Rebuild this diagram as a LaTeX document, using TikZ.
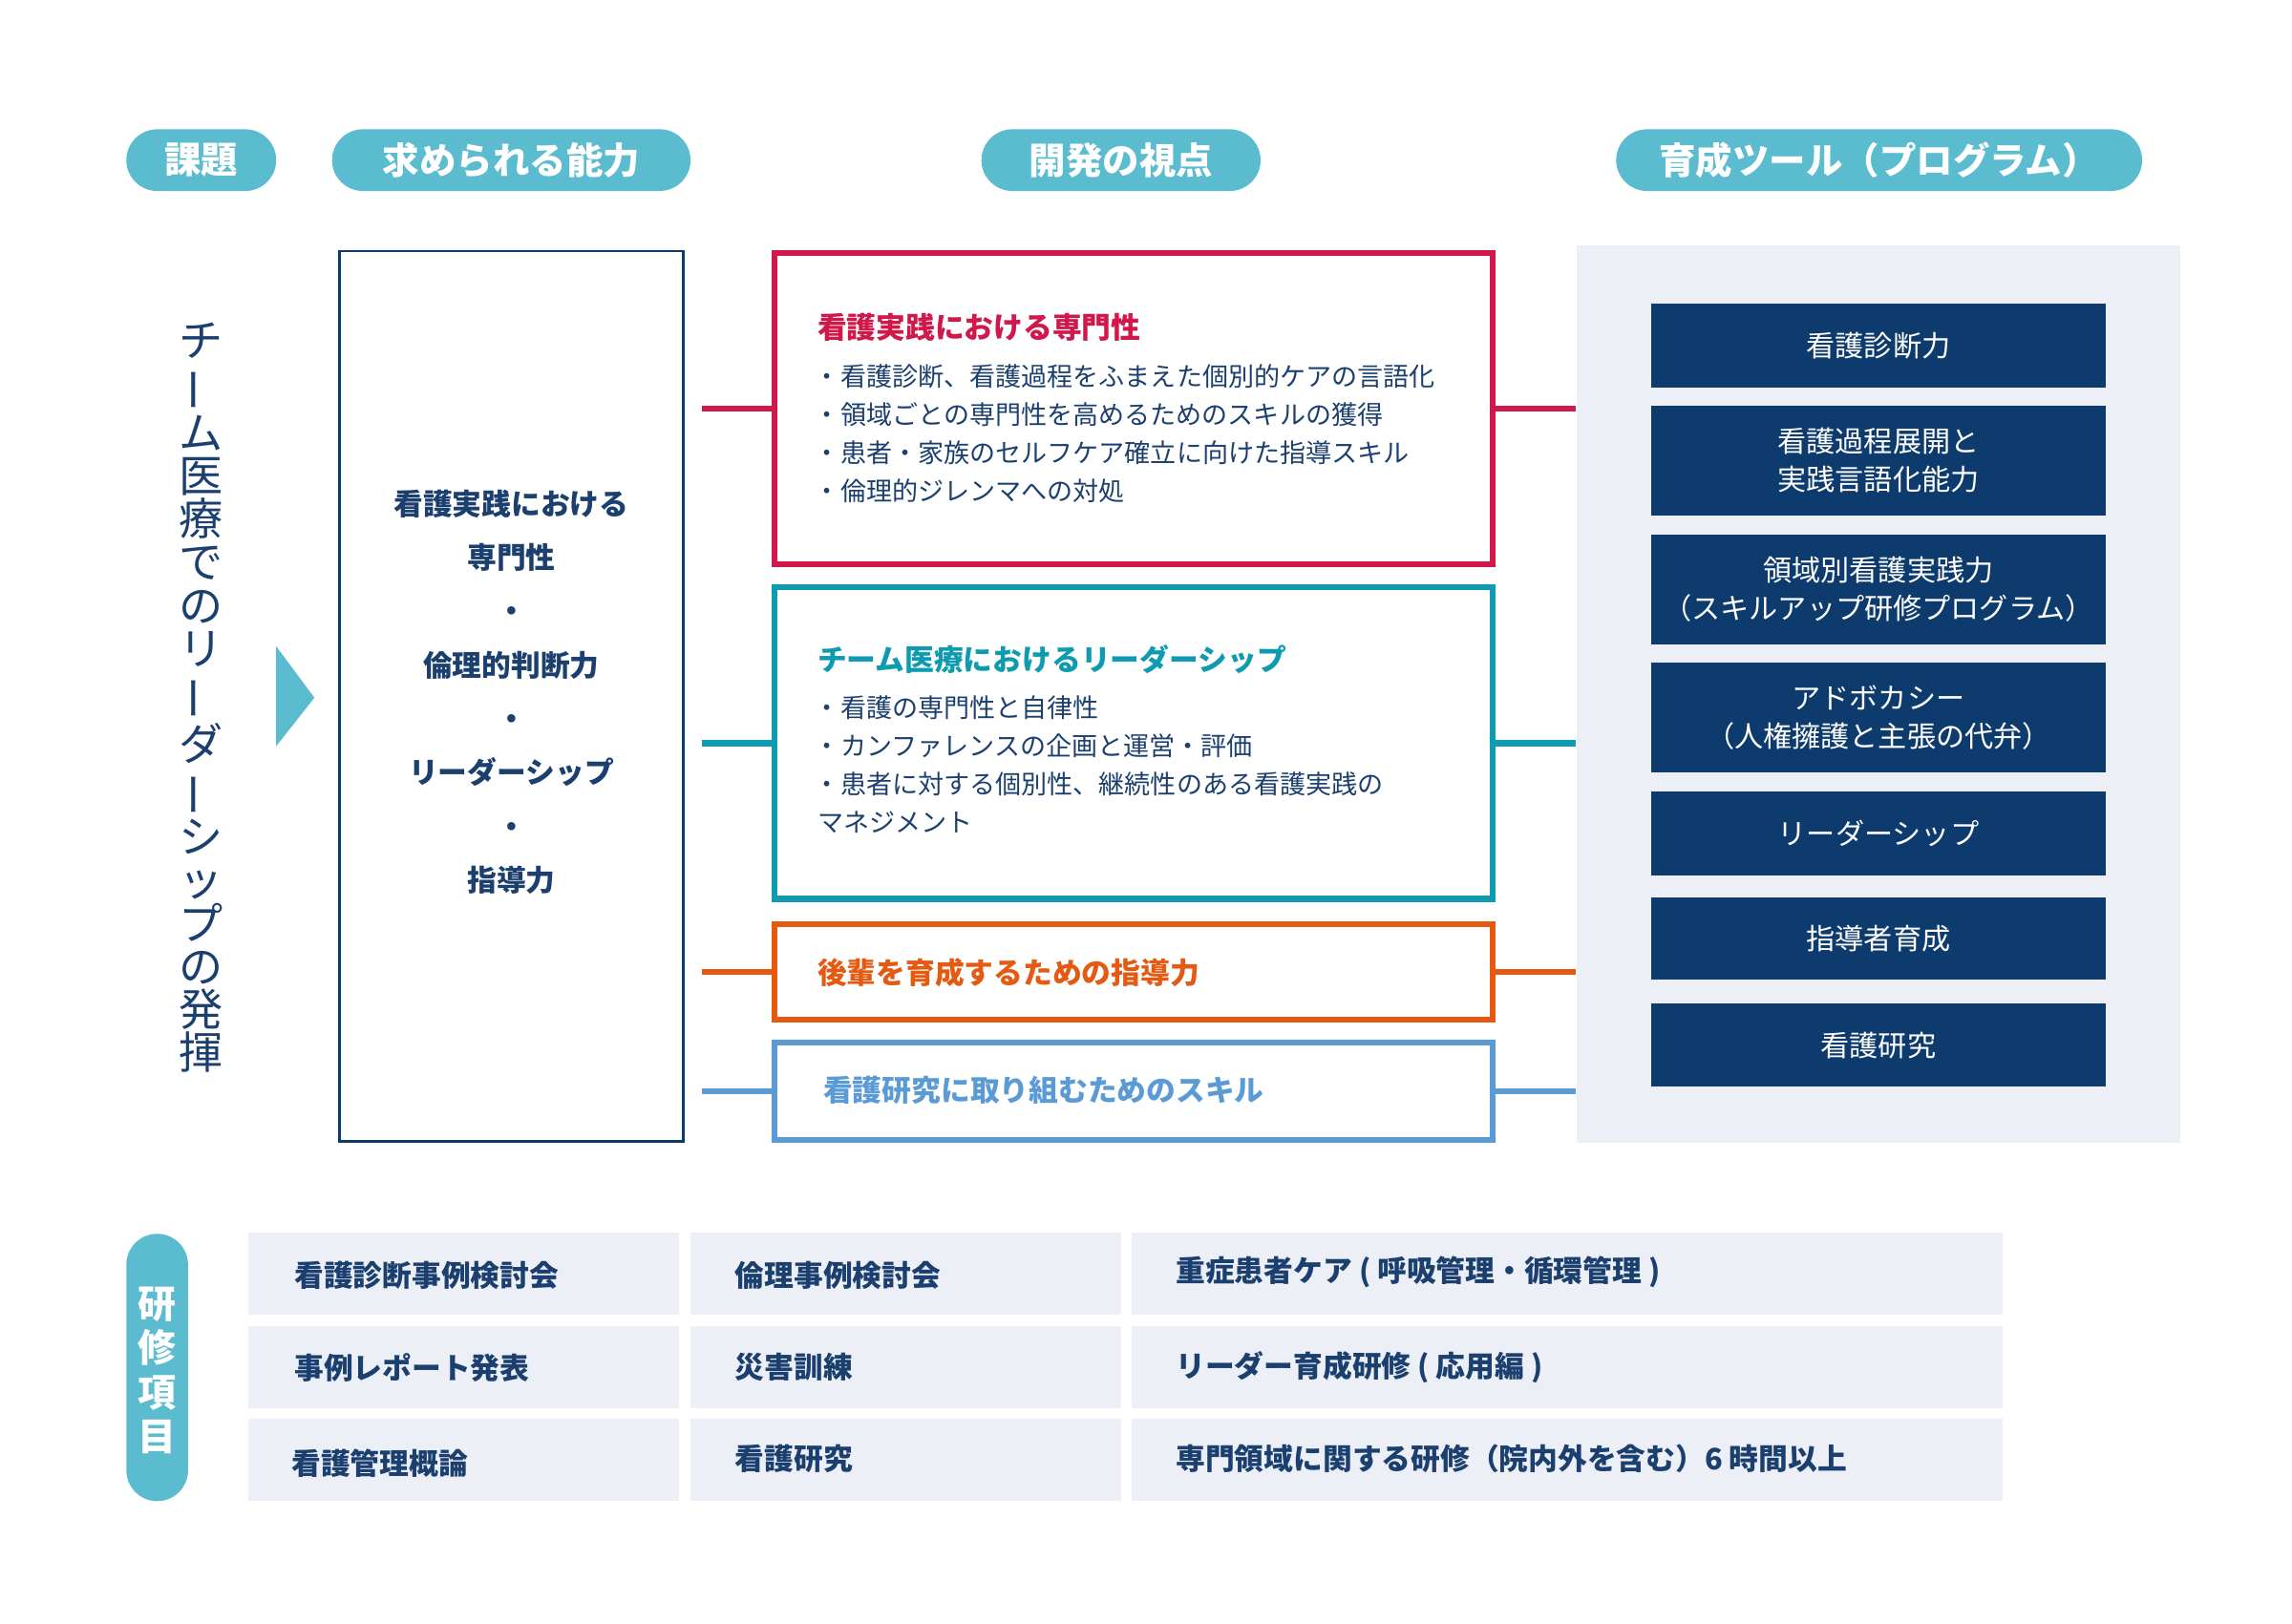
\documentclass[tikz,border=0pt]{standalone}
\usepackage{fontspec}
\setmainfont{Noto Sans CJK JP}
\usetikzlibrary{positioning}
\definecolor{pill}{HTML}{5BBCD0}
\definecolor{navy}{HTML}{1B3F6E}
\definecolor{dnavy}{HTML}{0D3B6E}
\definecolor{cred}{HTML}{D0184A}
\definecolor{cteal}{HTML}{0E9BB0}
\definecolor{corange}{HTML}{E55A12}
\definecolor{cblue}{HTML}{5B9BD5}
\definecolor{panel}{HTML}{ECEFF5}
\begin{document}
\begin{tikzpicture}[x=0.5pt,y=-0.5pt,
  pilltxt/.style={text=white,font=\fontsize{12.5}{14}\selectfont\bfseries},
  devbox/.style={draw,line width=2pt,inner sep=0pt},
  body/.style={text=navy,font=\fontsize{8.8}{13}\selectfont,anchor=west,inner sep=0pt},
  head/.style={font=\fontsize{10}{12}\selectfont\bfseries,anchor=west,inner sep=0pt},
  tool/.style={fill=dnavy,text=white,font=\fontsize{9.8}{13}\selectfont,align=center,inner sep=0pt},
  cell/.style={fill=panel},
  celltxt/.style={text=navy,font=\fontsize{10}{12}\selectfont\bfseries,anchor=west,inner sep=0pt},
  conn/.style={line width=2pt}]
\useasboundingbox (0,0) rectangle (1560,1105);
% pills
\fill[pill,rounded corners=10.5pt] (86,88) rectangle (188,130);
\node[pilltxt] (p1) at (137,109) {課題};
\fill[pill,rounded corners=10.5pt] (226,88) rectangle (470,130);
\node[pilltxt] (p2) at (348,109) {求められる能力};
\fill[pill,rounded corners=10.5pt] (668,88) rectangle (858,130);
\node[pilltxt] (p3) at (763,109) {開発の視点};
\fill[pill,rounded corners=10.5pt] (1100,88) rectangle (1458,130);
\node[pilltxt] (p4) at (1279,109) {育成ツール（プログラム）};
% vertical title
\node[text=navy,font=\fontsize{15}{14.7}\selectfont,align=center,inner sep=0pt] (vt) at (137,475)
 {チ\\\rotatebox[origin=c]{90}{ー}\\ム\\医\\療\\で\\の\\リ\\\rotatebox[origin=c]{90}{ー}\\ダ\\\rotatebox[origin=c]{90}{ー}\\シ\\ッ\\プ\\の\\発\\揮};
\fill[pill] (188,440) -- (214,475) -- (188,508) -- cycle;
% left box
\node[draw=dnavy,line width=0.8pt,minimum width=117pt,minimum height=303pt] (lb) at (348,474) {};
\node[text=navy,font=\fontsize{10}{18.3}\selectfont\bfseries,align=center] (lbt) at (348,471)
 {看護実践における\\専門性\\・\\倫理的判断力\\・\\リーダーシップ\\・\\指導力};
% development boxes
\node[devbox,draw=cred,minimum width=244.5pt,minimum height=106pt] (rb) at (771.5,278) {};
\node[head,text=cred] (rbt) at (556,223) {看護実践における専門性};
\node[body] (rb1) at (554,256) {・看護診断、看護過程をふまえた個別的ケアの言語化};
\node[body] (rb2) at (554,282) {・領域ごとの専門性を高めるためのスキルの獲得};
\node[body] (rb3) at (554,308) {・患者・家族のセルフケア確立に向けた指導スキル};
\node[body] (rb4) at (554,334) {・倫理的ジレンマへの対処};
\node[devbox,draw=cteal,minimum width=244.5pt,minimum height=106pt] (tb) at (771.5,506) {};
\node[head,text=cteal] (tbt) at (556,449) {チーム医療におけるリーダーシップ};
\node[body] (tb1) at (554,482) {・看護の専門性と自律性};
\node[body] (tb2) at (554,508) {・カンファレンスの企画と運営・評価};
\node[body] (tb3) at (554,534) {・患者に対する個別性、継続性のある看護実践の};
\node[body] (tb4) at (556,560) {マネジメント};
\node[devbox,draw=corange,minimum width=244.5pt,minimum height=32.5pt] (ob) at (771.5,661.5) {};
\node[head,text=corange] (obt) at (556,662) {後輩を育成するための指導力};
\node[devbox,draw=cblue,minimum width=244.5pt,minimum height=33pt] (bb) at (771.5,743) {};
\node[head,text=cblue] (bbt) at (560,742) {看護研究に取り組むためのスキル};
% panel
\node[fill=panel,minimum width=205.5pt,minimum height=305.5pt,inner sep=0pt] (pn) at (1278.5,472.5) {};
\node[tool,minimum width=154.5pt,minimum height=28.5pt] (t1) at (1278.5,235.5) {看護診断力};
\node[tool,minimum width=154.5pt,minimum height=37.5pt] (t2) at (1278.5,313.5) {看護過程展開と\\実践言語化能力};
\node[tool,minimum width=154.5pt,minimum height=37.5pt] (t3) at (1278.5,401.5) {領域別看護実践力\\（スキルアップ研修プログラム）};
\node[tool,minimum width=154.5pt,minimum height=37.5pt] (t4) at (1278.5,488.5) {アドボカシー\\（人権擁護と主張の代弁）};
\node[tool,minimum width=154.5pt,minimum height=28.5pt] (t5) at (1278.5,567.5) {リーダーシップ};
\node[tool,minimum width=154.5pt,minimum height=28pt] (t6) at (1278.5,639) {指導者育成};
\node[tool,minimum width=154.5pt,minimum height=28.5pt] (t7) at (1278.5,711.5) {看護研究};
% connectors
\coordinate (l1) at (478,278); \coordinate (l2) at (478,506);
\coordinate (l3) at (478,661.5); \coordinate (l4) at (478,743);
\draw[conn,cred] (l1) -- (rb.west); \draw[conn,cred] (rb.east) -- (pn.west |- rb.east);
\draw[conn,cteal] (l2) -- (tb.west); \draw[conn,cteal] (tb.east) -- (pn.west |- tb.east);
\draw[conn,corange] (l3) -- (ob.west); \draw[conn,corange] (ob.east) -- (pn.west |- ob.east);
\draw[conn,cblue] (l4) -- (bb.west); \draw[conn,cblue] (bb.east) -- (pn.west |- bb.east);
% training items
\fill[pill,rounded corners=10.5pt] (86,840) rectangle (128,1022);
\node[text=white,font=\fontsize{13}{15}\selectfont\bfseries,align=center,inner sep=0pt] (vk) at (107,933) {研\\修\\項\\目};
\fill[cell] (169,839) rectangle (462,895); \fill[cell] (470,839) rectangle (763,895); \fill[cell] (770,839) rectangle (1363,895);
\fill[cell] (169,903) rectangle (462,959); \fill[cell] (470,903) rectangle (763,959); \fill[cell] (770,903) rectangle (1363,959);
\fill[cell] (169,966) rectangle (462,1022); \fill[cell] (470,966) rectangle (763,1022); \fill[cell] (770,966) rectangle (1363,1022);
\node[celltxt] (g1) at (200,868) {看護診断事例検討会};
\node[celltxt] (g2) at (500,868) {倫理事例検討会};
\node[celltxt] (g3) at (800,866) {重症患者ケア ( 呼吸管理・循環管理 )};
\node[celltxt] (g4) at (200,931) {事例レポート発表};
\node[celltxt] (g5) at (500,931) {災害訓練};
\node[celltxt] (g6) at (800,931) {リーダー育成研修 ( 応用編 )};
\node[celltxt] (g7) at (198,996) {看護管理概論};
\node[celltxt] (g8) at (500,993) {看護研究};
\node[celltxt] (g9) at (800,993) {専門領域に関する研修（院内外を含む）6 時間以上};
\end{tikzpicture}
\end{document}
